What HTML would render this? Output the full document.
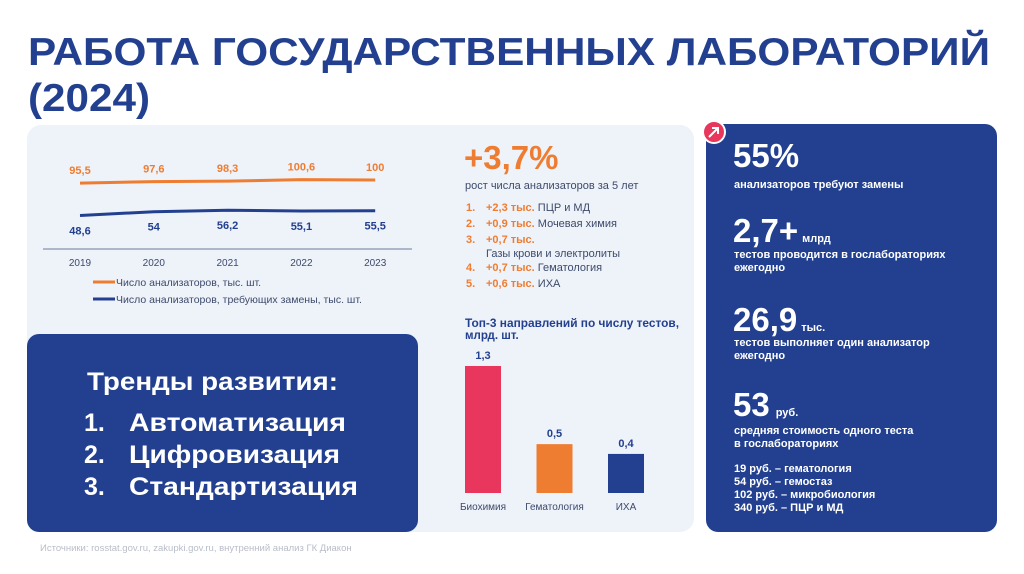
<!DOCTYPE html>
<html><head><meta charset="utf-8"><style>
html,body{margin:0;padding:0;background:#fff}
svg{display:block;font-family:"Liberation Sans",sans-serif}
</style></head><body>
<svg width="1024" height="574" viewBox="0 0 1024 574">
<g fill="#22408F" font-weight="bold" font-size="39">
<text x="28" y="65" textLength="962" lengthAdjust="spacingAndGlyphs">РАБОТА ГОСУДАРСТВЕННЫХ ЛАБОРАТОРИЙ</text>
<text x="28" y="111" textLength="122" lengthAdjust="spacingAndGlyphs">(2024)</text>
</g>
<rect x="27" y="125" width="667" height="407" rx="14" fill="#EEF2F9"/>
<g id="linechart"></g>
<g font-size="10.5" fill="#3D4A6B">
<line x1="93" y1="282" x2="115" y2="282" stroke="#EE7D31" stroke-width="3"/>
<text x="116" y="286">Число анализаторов, тыс. шт.</text>
<line x1="93" y1="299" x2="115" y2="299" stroke="#22408F" stroke-width="3"/>
<text x="116" y="303">Число анализаторов, требующих замены, тыс. шт.</text>
</g>
<rect x="27" y="334" width="391" height="198" rx="12" fill="#22408F"/>
<g fill="#fff" font-weight="bold" font-size="25">
<text x="87" y="390" textLength="251" lengthAdjust="spacingAndGlyphs">Тренды развития:</text>
<text x="84" y="431">1.</text><text x="129" y="431" textLength="217" lengthAdjust="spacingAndGlyphs">Автоматизация</text>
<text x="84" y="463">2.</text><text x="129" y="463" textLength="211" lengthAdjust="spacingAndGlyphs">Цифровизация</text>
<text x="84" y="495">3.</text><text x="129" y="495" textLength="229" lengthAdjust="spacingAndGlyphs">Стандартизация</text>
</g>
<g font-size="11" fill="#3D4A6B">
<text x="464" y="169" font-size="33" font-weight="bold" fill="#EE7D31">+3,7%</text>
<text x="465" y="189">рост числа анализаторов за 5 лет</text>
<g font-weight="bold" fill="#EE7D31"><text x="466" y="211">1.</text><text x="466" y="227">2.</text><text x="466" y="243">3.</text><text x="466" y="271">4.</text><text x="466" y="287">5.</text></g>
<text x="486" y="211"><tspan font-weight="bold" fill="#EE7D31">+2,3 тыс.</tspan> ПЦР и МД</text>
<text x="486" y="227"><tspan font-weight="bold" fill="#EE7D31">+0,9 тыс.</tspan> Мочевая химия</text>
<text x="486" y="243" font-weight="bold" fill="#EE7D31">+0,7 тыс.</text>
<text x="486" y="257">Газы крови и электролиты</text>
<text x="486" y="271"><tspan font-weight="bold" fill="#EE7D31">+0,7 тыс.</tspan> Гематология</text>
<text x="486" y="287"><tspan font-weight="bold" fill="#EE7D31">+0,6 тыс.</tspan> ИХА</text>
</g>
<g font-size="11.5" font-weight="bold" fill="#22408F">
<text x="465" y="327" textLength="214" lengthAdjust="spacingAndGlyphs">Топ-3 направлений по числу тестов,</text>
<text x="465" y="339">млрд. шт.</text>
</g>
<g id="barchart"></g>
<rect x="706" y="124" width="291" height="408" rx="12" fill="#22408F"/>
<g>
<circle cx="714" cy="132" r="11" fill="#E8365D" stroke="#fff" stroke-width="2"/>
<path d="M709 137 L718 128 M712 128 L718 128 L718 134" stroke="#fff" stroke-width="2" fill="none"/>
</g>
<g fill="#fff" font-weight="bold">
<text x="733" y="167" font-size="33">55%</text>
<text x="734" y="188" font-size="11">анализаторов требуют замены</text>
<text x="733" y="242" font-size="33">2,7+<tspan font-size="11" dx="4">млрд</tspan></text>
<text x="734" y="258" font-size="11">тестов проводится в гослабораториях</text>
<text x="734" y="271" font-size="11">ежегодно</text>
<text x="733" y="331" font-size="33">26,9<tspan font-size="11" dx="4">тыс.</tspan></text>
<text x="734" y="346" font-size="11">тестов выполняет один анализатор</text>
<text x="734" y="359" font-size="11">ежегодно</text>
<text x="733" y="416" font-size="33">53<tspan font-size="11" dx="6">руб.</tspan></text>
<text x="734" y="434" font-size="11">средняя стоимость одного теста</text>
<text x="734" y="447" font-size="11">в гослабораториях</text>
<text x="734" y="472" font-size="11">19 руб. – гематология</text>
<text x="734" y="485" font-size="11">54 руб. – гемостаз</text>
<text x="734" y="498" font-size="11">102 руб. – микробиология</text>
<text x="734" y="511" font-size="11">340 руб. – ПЦР и МД</text>
</g>
<text x="40" y="551" font-size="9.5" fill="#B8BDC8">Источники: rosstat.gov.ru, zakupki.gov.ru, внутренний анализ ГК Диакон</text>
</svg>
<script>
const years = ["2019","2020","2021","2022","2023"];
const totalAnalyzers = [95.5, 97.6, 98.3, 100.6, 100];
const totalLabels = ["95,5","97,6","98,3","100,6","100"];
const replaceAnalyzers = [48.6, 54, 56.2, 55.1, 55.5];
const replaceLabels = ["48,6","54","56,2","55,1","55,5"];
const barCats = ["Биохимия","Гематология","ИХА"];
const barValues = [1.3, 0.5, 0.4];
const barLabels = ["1,3","0,5","0,4"];

const NS = "http://www.w3.org/2000/svg";
function mk(tag, attrs, parent){const e=document.createElementNS(NS,tag);for(const k in attrs)e.setAttribute(k,attrs[k]);parent.appendChild(e);return e;}
const lc = document.getElementById('linechart');
const lx = i => 80 + i*73.8;
const ly = v => 249 - v*0.69;
const axis = mk('line',{x1:43,y1:249,x2:412,y2:249,stroke:'#6E7C99','stroke-width':1},lc);


function series(vals, labs, color, name, above){
  const p = mk('polyline',{points:vals.map((v,i)=>lx(i)+','+ly(v)).join(' '),fill:'none',stroke:color,'stroke-width':3},lc);
  
  
  vals.forEach((v,i)=>{
    const t = mk('text',{x:lx(i),y:above?ly(v)-9:ly(v)+19,'text-anchor':'middle','font-size':11,'font-weight':'bold',fill:color},lc);
    
    
    t.textContent = labs[i];
  });
}
series(totalAnalyzers,totalLabels,'#EE7D31','total-analyzers',true);
series(replaceAnalyzers,replaceLabels,'#22408F','replace-analyzers',false);
years.forEach((y,i)=>{
  const t = mk('text',{x:lx(i),y:266,'text-anchor':'middle','font-size':10,fill:'#3D4A6B'},lc);
  
  
  t.textContent = y;
});
const bc = document.getElementById('barchart');
const colors = ['#E8365D','#EE7D31','#22408F'];
const bx = i => 465 + i*71.5;
const bh = v => v*97.7;
barValues.forEach((v,i)=>{
  const r = mk('rect',{x:bx(i),y:493-bh(v),width:36,height:bh(v),fill:colors[i]},bc);
  
  
  const t = mk('text',{x:bx(i)+18,y:493-bh(v)-7,'text-anchor':'middle','font-size':11,'font-weight':'bold',fill:'#22408F'},bc);
  
  
  t.textContent = barLabels[i];
  const c = mk('text',{x:bx(i)+18,y:510,'text-anchor':'middle','font-size':10,fill:'#3D4A6B'},bc);
  
  
  c.textContent = barCats[i];
});
</script>
</body></html>
